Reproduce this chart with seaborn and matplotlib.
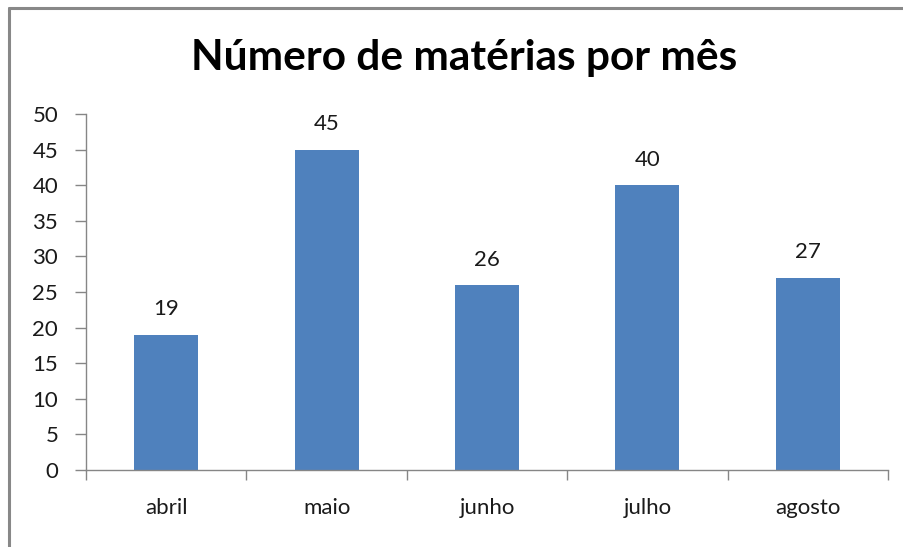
import matplotlib
matplotlib.use("Agg")
import matplotlib.pyplot as plt
import seaborn as sns
import pandas as pd
from matplotlib.lines import Line2D

months = ["abril", "maio", "junho", "julho", "agosto"]
counts = [19, 45, 26, 40, 27]
yticks = [0, 5, 10, 15, 20, 25, 30, 35, 40, 45, 50]
title = "Número de matérias por mês"

sns.set_theme(style="white")
plt.rcParams["font.family"] = ["Lato", "DejaVu Sans"]

df = pd.DataFrame({"mes": months, "n": counts})

fig = plt.figure(figsize=(9.04, 5.47), dpi=100)
ax = fig.add_axes([86/904, 1-470/547, (888-86)/904, (470-114)/547])

sns.barplot(data=df, x="mes", y="n", color="#4F81BD", width=0.4,
            saturation=1, ax=ax, edgecolor="none")

ax.set_xlim(-0.5, len(months) - 0.5)
ax.set_ylim(0, 50)
ax.set_yticks(yticks)
ax.set_yticklabels([str(t) for t in yticks], fontsize=16, color="#1a1a1a")
ax.set_xticks([i - 0.5 for i in range(len(months) + 1)])
ax.set_xticklabels([""] * (len(months) + 1))
ax.set_xticks(range(len(months)), minor=True)
ax.set_xticklabels(months, minor=True, fontsize=16, color="#1a1a1a")
ax.tick_params(axis="x", which="major", bottom=True, length=7, width=1,
               color="#868686", direction="out")
ax.tick_params(axis="x", which="minor", bottom=True, length=0, pad=20)
ax.tick_params(axis="y", left=True, length=8, width=1, color="#868686",
               direction="out", pad=12)
ax.set_xlabel("")
ax.set_ylabel("")

for s in ["top", "right"]:
    ax.spines[s].set_visible(False)
for s in ["left", "bottom"]:
    ax.spines[s].set_color("#868686")
    ax.spines[s].set_linewidth(1)

for i, v in enumerate(counts):
    ax.annotate(str(v), (i, v), xytext=(0, 11), textcoords="offset points",
                ha="center", va="bottom", fontsize=16, color="#1a1a1a")

fig.text(0.513, 1 - 58/547, title, ha="center", va="center",
         fontsize=30.5, fontweight="bold", color="black")

# chart-area border (left and top)
fig.add_artist(Line2D([8.5/904, 8.5/904], [0, 1 - 8/547], transform=fig.transFigure,
                      color="#888888", linewidth=2.2))
fig.add_artist(Line2D([8.5/904, 1], [1 - 8/547, 1 - 8/547], transform=fig.transFigure,
                      color="#888888", linewidth=2.2))

fig.savefig("out.png", dpi=100)
